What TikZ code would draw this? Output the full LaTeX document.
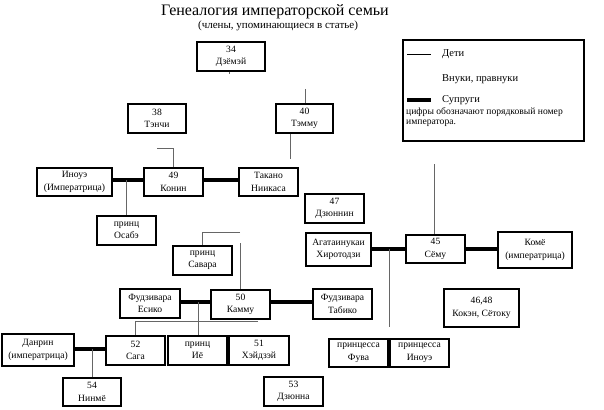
\documentclass[tikz,border=0pt]{standalone}
\usepackage{fontspec}
\setmainfont{Liberation Serif}
\begin{document}
\begin{tikzpicture}[x=1pt,y=-1pt,
  box/.style={draw=black, line width=1.2pt, fill=white, inner sep=0pt, align=center,
    font=\fontsize{9.6}{12.5}\selectfont, minimum width=59pt, minimum height=29pt},
  kid/.style={draw=black!60, line width=0.6pt},
  spouse/.style={draw=black, line width=3.5pt},
  lbl/.style={font=\fontsize{10.5}{12}\selectfont, inner sep=0pt, anchor=west}]
\useasboundingbox (0,0) rectangle (604,409);
% title
\node[font=\fontsize{16}{18}\selectfont, inner sep=0pt] (title) at (275,12) {Генеалогия императорской семьи};
\node[font=\fontsize{11}{13}\selectfont, inner sep=0pt] (subtitle) at (278,25.5) {(члены, упоминающиеся в статье)};
% boxes
\node[box, minimum width=68pt] (d34) at (231,56.5) {34\\Дзёмэй};
\node[box, minimum width=58pt] (t38) at (157,118.5) {38\\Тэнчи};
\node[box, minimum width=57pt] (t40) at (304.5,118.5) {40\\Тэмму};
\node[box, minimum width=75pt, minimum height=28pt] (inoue) at (74.5,182) {Иноуэ\\(Императрица)};
\node[box, minimum height=28pt] (k49) at (173.5,182) {49\\Конин};
\node[box, minimum height=28pt] (takano) at (268.5,182) {Такано\\Ниикаса};
\node[box] (osabe) at (126.5,230.5) {принц\\Осабэ};
\node[box] (j47) at (334.5,208.5) {47\\Дзюннин};
\node[box, minimum width=65pt, minimum height=33pt] (agatai) at (338.5,249.5) {Агатаинукаи\\Хиротодзи};
\node[box, minimum height=28pt] (s45) at (435.5,249) {45\\Сёму};
\node[box, minimum width=74pt, minimum height=36pt] (kome) at (535,250) {Комё\\(императрица)};
\node[box, minimum width=75pt, minimum height=38pt] (kk) at (481.5,308) {46,48\\Кокэн, Сётоку};
\node[box, minimum height=30pt] (tabiko) at (342.5,304) {Фудзивара\\Табико};
\node[box] (k50) at (240.5,304.5) {50\\Камму};
\node[box, minimum width=60pt] (esiko) at (150,303.5) {Фудзивара\\Есико};
\node[box] (savara) at (202.5,260.5) {принц\\Савара};
\node[box, minimum width=72pt, minimum height=32pt] (danrin) at (38,350) {Данрин\\(императрица)};
\node[box] (s52) at (135.5,350.5) {52\\Сага};
\node[box] (iyo) at (197.5,350.5) {принц\\Иё};
\node[box, minimum width=60pt] (h51) at (259,350.5) {51\\Хэйдзэй};
\node[box, minimum width=58pt, minimum height=28pt] (n54) at (92,392) {54\\Нинмё};
\node[box] (d53) at (293.5,391.5) {53\\Дзюнна};
\node[box, minimum height=28pt] (fuva) at (358.5,353) {принцесса\\Фува};
\node[box, minimum height=28pt] (inoue2) at (419.5,353) {принцесса\\Иноуэ};
% coordinates
\coordinate (d34t) at (229,74);
\coordinate (t40up) at (305,89);
\coordinate (t40dn) at (290,159);
\coordinate (k49a) at (157,148);
\coordinate (k49b) at (173,148);
\coordinate (osj) at (126,180);
\coordinate (s45up) at (434,164);
\coordinate (agj) at (389,249);
\coordinate (agdn) at (389,327);
\coordinate (k50up) at (240,243);
\coordinate (sva) at (240,232);
\coordinate (svb) at (202,232);
\coordinate (esj) at (198,302);
\coordinate (hla) at (135,321);
\coordinate (hlb) at (258,321);
\coordinate (dnj) at (92,349);
% spouse lines
\draw[spouse] (inoue.east |- osj) -- (k49.west |- osj);
\draw[spouse] (k49.east |- osj) -- (takano.west |- osj);
\draw[spouse] (agatai.east |- agj) -- (s45.west |- agj);
\draw[spouse] (s45.east |- agj) -- (kome.west |- agj);
\draw[spouse] (esiko.east |- esj) -- (k50.west |- esj);
\draw[spouse] (k50.east |- esj) -- (tabiko.west |- esj);
\draw[spouse] (danrin.east |- dnj) -- (s52.west |- dnj);
% child lines
\draw[kid] (d34.south -| d34t) -- (d34t);
\draw[kid] (t40up) -- (t40.north -| t40up);
\draw[kid] (t40.south -| t40dn) -- (t40dn);
\draw[kid] (k49a) -- (k49b) -- (k49.north -| k49b);
\draw[kid] (osj) -- (osabe.north -| osj);
\draw[kid] (s45up) -- (s45.north -| s45up);
\draw[kid] (agj) -- (agdn);
\draw[kid] (k50up) -- (k50.north -| k50up);
\draw[kid] (sva) -- (svb) -- (savara.north -| svb);
\draw[kid] (esj) -- (iyo.north -| esj);
\draw[kid] (hlb) -- (hla) -- (s52.north -| hla);
\draw[kid] (dnj) -- (n54.north -| dnj);
% legend
\node[draw=black, line width=1.2pt, minimum width=181pt, minimum height=101pt, inner sep=0pt] (legend) at (493.5,90.5) {};
\coordinate (lg1a) at (407,54);
\coordinate (lg1b) at (431,54);
\coordinate (lg3a) at (407,100);
\coordinate (lg3b) at (431,100);
\draw[line width=0.6pt] (lg1a) -- (lg1b);
\draw[line width=4pt] (lg3a) -- (lg3b);
\node[lbl] (lgt1) at (442,54) {Дети};
\node[lbl] (lgt2) at (442,79) {Внуки, правнуки};
\node[lbl] (lgt3) at (442,100) {Супруги};
\node[font=\fontsize{9.6}{10}\selectfont, inner sep=0pt, anchor=north west, align=left] (lgnote) at (406,107.5) {цифры обозначают порядковый номер\\императора.};
\end{tikzpicture}
\end{document}
